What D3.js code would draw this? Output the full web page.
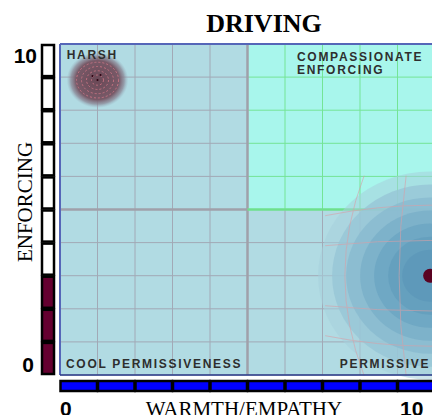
<!DOCTYPE html>
<html><head><meta charset="utf-8">
<script src="https://cdn.jsdelivr.net/npm/d3@7"></script>
<style>body{margin:0;background:#fff;overflow:hidden}svg{display:block}</style>
</head><body><svg id="c" width="432" height="415"></svg>
<script>
// ---- data ----
const title = "DRIVING";
const xLabel = "WARMTH/EMPATHY";
const yLabel = "ENFORCING";
const xTickLabels = ["0", "10"];
const yTickLabels = ["0", "10"];
const gridSteps = [0,1,2,3,4,5,6,7,8,9,10];
const enforcingScore = 3;      // filled boxes on the vertical bar
const warmthScore = 10;        // filled boxes on the horizontal bar
const drivingPoint = [9.87, 3]; // warmth, enforcing
const harshPoint = [1, 9];
const quadrantLabels = [
  {lines:["HARSH"], x:0.18, y:9.55, anchor:"start"},
  {lines:["COMPASSIONATE","ENFORCING"], x:6.32, y:9.5, anchor:"start"},
  {lines:["COOL PERMISSIVENESS"], x:0.16, y:0.2, anchor:"start"},
  {lines:["PERMISSIVE"], x:9.87, y:0.2, anchor:"end"}
];

const svg = d3.select("#c");
const x = d3.scaleLinear([0,10],[60,435]);
const y = d3.scaleLinear([0,10],[375,44]);
const defs = svg.append("defs");

// background quadrants
svg.append("rect").attr("x",x(0)).attr("y",y(10)).attr("width",x(10)-x(0)).attr("height",y(0)-y(10)).attr("fill","#b1dbe3");
svg.append("rect").attr("x",x(5)).attr("y",y(10)).attr("width",x(10)-x(5)).attr("height",y(5)-y(10)).attr("fill","#a8f6ec");

// grid
const g = svg.append("g");
gridSteps.forEach(v=>{
  g.append("line").attr("x1",x(v)).attr("x2",x(v)).attr("y1",y(5)).attr("y2",y(0)).attr("stroke","#a2a9b6").attr("stroke-width",1);
  g.append("line").attr("x1",x(v)).attr("x2",x(v)).attr("y1",y(10)).attr("y2",y(5)).attr("stroke", v>5?"#74e496":"#a2a9b6").attr("stroke-width",1);
  g.append("line").attr("y1",y(v)).attr("y2",y(v)).attr("x1",x(0)).attr("x2",x(5)).attr("stroke","#a2a9b6").attr("stroke-width",1);
  g.append("line").attr("y1",y(v)).attr("y2",y(v)).attr("x1",x(5)).attr("x2",x(10)).attr("stroke", v>5?"#74e496":"#a2a9b6").attr("stroke-width",1);
});
g.append("line").attr("x1",x(5)).attr("x2",x(5)).attr("y1",y(10)).attr("y2",y(0)).attr("stroke","#a0a0aa").attr("stroke-width",2.5);
g.append("line").attr("x1",x(0)).attr("x2",x(5)).attr("y1",y(5)).attr("y2",y(5)).attr("stroke","#a0a0aa").attr("stroke-width",2.5);
g.append("line").attr("x1",x(5)).attr("x2",x(10)).attr("y1",y(5)).attr("y2",y(5)).attr("stroke","#6ee08c").attr("stroke-width",2.5);

// big blob around driving point
const cx = x(drivingPoint[0]), cy = y(drivingPoint[1]);
const ringColors = ["#a6d0dd","#97c5d6","#88bad0","#79afc8","#6ca5c2","#639dbd","#5d97b9"];
const ringR = [112, 98, 84, 70, 56, 42, 28];
ringR.forEach((r,i)=>{
  svg.append("ellipse").attr("cx",cx).attr("cy",cy).attr("rx",r).attr("ry",r*0.93)
    .attr("fill",ringColors[i]).attr("opacity", i===0?0.55:0.8);
});
const arcG = svg.append("g").attr("fill","none").attr("stroke","#d8a0a8").attr("stroke-width",1).attr("opacity",0.6);
[-0.55,-0.2,0.2].forEach(k=>{
  arcG.append("path").attr("d",`M${cx+k*120},${cy-100} Q${cx+k*190},${cy} ${cx+k*120},${cy+100}`);
});
[-60,-30,30,60].forEach(dy=>{
  arcG.append("path").attr("d",`M${cx-105},${cy+dy} Q${cx},${cy+dy*1.35} ${cx+105},${cy+dy}`);
});

// harsh blob
const hg = defs.append("radialGradient").attr("id","hb");
hg.append("stop").attr("offset","0%").attr("stop-color","#6a4856");
hg.append("stop").attr("offset","70%").attr("stop-color","#785a68");
hg.append("stop").attr("offset","86%").attr("stop-color","#88808f").attr("stop-opacity",0.7);
hg.append("stop").attr("offset","100%").attr("stop-color","#9ab0c0").attr("stop-opacity",0);
const hx = x(harshPoint[0]), hy = y(harshPoint[1]);
svg.append("ellipse").attr("cx",hx).attr("cy",hy+3).attr("rx",31).attr("ry",28).attr("fill","url(#hb)");
const hr = svg.append("g").attr("fill","none").attr("stroke","#d77a8a").attr("stroke-width",1).attr("stroke-dasharray","2,2").attr("opacity",0.8);
[6,11,16,21].forEach(r=>hr.append("ellipse").attr("cx",hx).attr("cy",hy+3).attr("rx",r).attr("ry",r*0.85));
[[-5,-1],[3,-2],[0,3]].forEach(d=>svg.append("circle").attr("cx",hx+d[0]).attr("cy",hy+d[1]).attr("r",1).attr("fill","#2a0010"));

// driving point
svg.append("circle").attr("cx",cx).attr("cy",cy).attr("r",7).attr("fill","#5a0322");

// plot border
svg.append("line").attr("x1",x(0)).attr("x2",x(10)).attr("y1",y(10)).attr("y2",y(10)).attr("stroke","#5566b8").attr("stroke-width",2);
svg.append("line").attr("x1",x(0)).attr("x2",x(0)).attr("y1",y(10)).attr("y2",y(0)).attr("stroke","#5566b8").attr("stroke-width",2);
svg.append("line").attr("x1",x(0)).attr("x2",x(10)).attr("y1",y(0)).attr("y2",y(0)).attr("stroke","#2a3a88").attr("stroke-width",1.5);

// quadrant labels
quadrantLabels.forEach(q=>{
  const t = svg.append("text").attr("x",x(q.x)).attr("y",y(q.y))
    .attr("text-anchor",q.anchor).attr("font-family","Liberation Sans, Arial, sans-serif")
    .attr("font-weight","bold").attr("font-size",12).attr("letter-spacing","1.7px").attr("fill","#2e2e2e");
  q.lines.forEach((l,i)=>t.append("tspan").attr("x",x(q.x)).attr("dy",i?13:0).text(l));
});

// left enforcing bar
const segs = d3.range(10);
svg.append("g").selectAll("rect").data(segs).join("rect")
  .attr("x",42).attr("width",12)
  .attr("y",d=>y(d+1)+1).attr("height",d=>y(d)-y(d+1)-2)
  .attr("fill",d=>d<enforcingScore?"#650030":"#fff")
  .attr("stroke","#000").attr("stroke-width",2.5);

// bottom warmth bar
svg.append("g").selectAll("rect").data(segs).join("rect")
  .attr("y",381).attr("height",10)
  .attr("x",d=>x(d)+0.5).attr("width",d=>x(d+1)-x(d)-1)
  .attr("fill",d=>d<warmthScore?"#0000ff":"#fff")
  .attr("stroke","#000").attr("stroke-width",2.5);

// tick labels
const bold = "Liberation Sans, Arial, sans-serif";
svg.append("text").attr("x",37).attr("y",63).attr("text-anchor","end").attr("font-family",bold).attr("font-weight","bold").attr("font-size",21).text(yTickLabels[1]);
svg.append("text").attr("x",34).attr("y",372).attr("text-anchor","end").attr("font-family",bold).attr("font-weight","bold").attr("font-size",21).text(yTickLabels[0]);
svg.append("text").attr("x",60).attr("y",416).attr("font-family",bold).attr("font-weight","bold").attr("font-size",21).text(xTickLabels[0]);
svg.append("text").attr("x",400).attr("y",416).attr("font-family",bold).attr("font-weight","bold").attr("font-size",21).text(xTickLabels[1]);

// axis titles
svg.append("text").attr("x",244).attr("y",415.5).attr("text-anchor","middle").attr("font-family","Liberation Serif, Times New Roman, serif").attr("font-size",21).text(xLabel);
svg.append("text").attr("transform","translate(32,202) rotate(-90)").attr("text-anchor","middle").attr("font-family","Liberation Serif, Times New Roman, serif").attr("font-size",21).text(yLabel);
svg.append("text").attr("x",264).attr("y",32).attr("text-anchor","middle").attr("font-family","Liberation Serif, Times New Roman, serif").attr("font-weight","bold").attr("font-size",26).text(title);
</script></body></html>
